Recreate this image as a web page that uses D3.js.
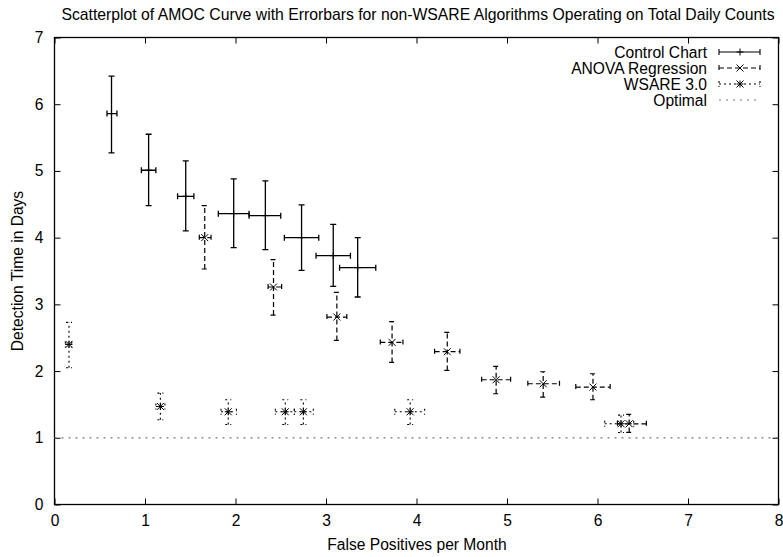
<!DOCTYPE html>
<html>
<head>
<meta charset="utf-8">
<script src="https://cdn.jsdelivr.net/npm/d3@7"></script>
<style>
  body { margin: 0; background: #fff; }
  text { font-family: "Liberation Sans", Arial, Helvetica, sans-serif; fill: #000; }
</style>
</head>
<body>
<svg id="chart" width="783" height="557"></svg>
<script>
// ---- data ----
const xTicks = [0, 1, 2, 3, 4, 5, 6, 7, 8];
const yTicks = [0, 1, 2, 3, 4, 5, 6, 7];

const seriesNames = ["Control Chart", "ANOVA Regression", "WSARE 3.0", "Optimal"];

const ccX    = [0.63, 1.04, 1.45, 1.98, 2.33, 2.73, 3.08, 3.35];
const ccY    = [5.86, 5.01, 4.62, 4.36, 4.33, 4.00, 3.73, 3.55];
const ccXlo  = [0.58, 0.96, 1.36, 1.81, 2.15, 2.54, 2.89, 3.15];
const ccXhi  = [0.69, 1.12, 1.54, 2.15, 2.50, 2.92, 3.27, 3.55];
const ccYlo  = [5.27, 4.48, 4.10, 3.85, 3.82, 3.51, 3.27, 3.11];
const ccYhi  = [6.42, 5.55, 5.15, 4.88, 4.85, 4.49, 4.20, 4.00];

const anX    = [1.66, 2.42, 3.12, 3.73, 4.34, 4.88, 5.40, 5.95, 6.35];
const anY    = [4.00, 3.26, 2.81, 2.43, 2.29, 1.87, 1.81, 1.76, 1.21];
const anXlo  = [1.60, 2.36, 3.01, 3.60, 4.20, 4.72, 5.23, 5.76, 6.22];
const anXhi  = [1.73, 2.51, 3.23, 3.85, 4.48, 5.04, 5.58, 6.14, 6.54];
const anYlo  = [3.53, 2.84, 2.46, 2.13, 2.01, 1.66, 1.61, 1.57, 1.08];
const anYhi  = [4.48, 3.67, 3.18, 2.74, 2.58, 2.07, 1.99, 1.96, 1.35];

const wsX    = [0.16, 1.17, 1.92, 2.55, 2.75, 3.93, 6.26];
const wsY    = [2.40, 1.47, 1.39, 1.39, 1.39, 1.39, 1.21];
const wsXlo  = [0.12, 1.12, 1.84, 2.44, 2.65, 3.76, 6.08];
const wsXhi  = [0.19, 1.22, 2.01, 2.65, 2.86, 4.09, 6.40];
const wsYlo  = [2.05, 1.27, 1.20, 1.20, 1.20, 1.20, 1.08];
const wsYhi  = [2.73, 1.67, 1.57, 1.57, 1.57, 1.57, 1.34];

const optimalY = 1;

// ---- layout ----
const svg = d3.select("#chart");
const L = 54.5, R = 778.5, T = 37.5, B = 504.5;
const x = d3.scaleLinear().domain([0, 8]).range([L, R]);
const y = d3.scaleLinear().domain([0, 7]).range([B, T]);
const fs = "15.6px";

// title
svg.append("text").attr("x", 418).attr("y", 20).attr("text-anchor", "middle")
  .style("font-size", "15.75px")
  .text("Scatterplot of AMOC Curve with Errorbars for non-WSARE Algorithms Operating on Total Daily Counts");

// axes (inward ticks on all sides)
const tl = 6;
svg.append("g").attr("transform", `translate(0,${B})`)
  .call(d3.axisBottom(x).tickValues(xTicks).tickSizeInner(-tl).tickSizeOuter(0).tickPadding(10).tickFormat(d3.format("d")));
svg.append("g").attr("transform", `translate(0,${T})`)
  .call(d3.axisTop(x).tickValues(xTicks).tickSizeInner(-tl).tickSizeOuter(0).tickFormat(""));
svg.append("g").attr("transform", `translate(${L},0)`)
  .call(d3.axisLeft(y).tickValues(yTicks).tickSizeInner(-tl).tickSizeOuter(0).tickPadding(11).tickFormat(d3.format("d")));
svg.append("g").attr("transform", `translate(${R},0)`)
  .call(d3.axisRight(y).tickValues(yTicks).tickSizeInner(-tl).tickSizeOuter(0).tickFormat(""));
svg.selectAll(".domain").remove();
svg.selectAll(".tick line").attr("stroke", "#000");
svg.selectAll(".tick text").style("font-size", fs).style("font-family", '"Liberation Sans", Arial, sans-serif');

svg.append("rect").attr("x", L).attr("y", T).attr("width", R - L).attr("height", B - T)
  .attr("fill", "none").attr("stroke", "#000").attr("stroke-width", 1.3);

// axis labels
svg.append("text").attr("x", 417).attr("y", 550).attr("text-anchor", "middle")
  .style("font-size", fs).text("False Positives per Month");
svg.append("text").attr("transform", "translate(23,271) rotate(-90)").attr("text-anchor", "middle")
  .style("font-size", fs).text("Detection Time in Days");

// ---- marks ----
const plot = svg.append("g");
const cap = 3;

function marker(g, cx, cy, type, s) {
  const p = d3.path();
  if (type === "plus" || type === "star") {
    p.moveTo(cx - s, cy); p.lineTo(cx + s, cy);
    p.moveTo(cx, cy - s); p.lineTo(cx, cy + s);
  }
  if (type === "cross" || type === "star") {
    p.moveTo(cx - s, cy - s); p.lineTo(cx + s, cy + s);
    p.moveTo(cx - s, cy + s); p.lineTo(cx + s, cy - s);
  }
  g.append("path").attr("d", p.toString()).attr("stroke", "#000").attr("stroke-width", 1).attr("fill", "none");
}

function drawSeries(X, Y, Xlo, Xhi, Ylo, Yhi, dash, type, width) {
  const g = plot.append("g");
  X.forEach((v, i) => {
    const cx = x(v), cy = y(Y[i]);
    const x0 = x(Xlo[i]), x1 = x(Xhi[i]), y0 = y(Ylo[i]), y1 = y(Yhi[i]);
    const p = d3.path();
    p.moveTo(cx, y0); p.lineTo(cx, y1);
    p.moveTo(x0, cy); p.lineTo(x1, cy);
    p.moveTo(cx - cap, y0); p.lineTo(cx + cap, y0);
    p.moveTo(cx - cap, y1); p.lineTo(cx + cap, y1);
    p.moveTo(x0, cy - cap); p.lineTo(x0, cy + cap);
    p.moveTo(x1, cy - cap); p.lineTo(x1, cy + cap);
    g.append("path").attr("d", p.toString()).attr("stroke", "#000")
      .attr("stroke-width", width).attr("fill", "none").attr("stroke-dasharray", dash);
    marker(g, cx, cy, type, 3.5);
  });
}

// optimal line
plot.append("line").attr("x1", x(0)).attr("x2", x(8)).attr("y1", y(optimalY)).attr("y2", y(optimalY))
  .attr("stroke", "#777").attr("stroke-width", 1.2).attr("stroke-dasharray", "2,5");

drawSeries(ccX, ccY, ccXlo, ccXhi, ccYlo, ccYhi, null, "plus", 1.3);
drawSeries(anX, anY, anXlo, anXhi, anYlo, anYhi, "5,3", "cross", 1.2);
drawSeries(wsX, wsY, wsXlo, wsXhi, wsYlo, wsYhi, "2,3", "star", 1.1);

// ---- legend ----
const legend = svg.append("g");
const styles = [
  { dash: null, type: "plus", color: "#000" },
  { dash: "5,3", type: "cross", color: "#000" },
  { dash: "2,3", type: "star", color: "#000" },
  { dash: "2,5", type: null, color: "#777" }
];
seriesNames.forEach((name, i) => {
  const ly = 52 + i * 16;
  legend.append("text").attr("x", 707).attr("y", ly + 5.5).attr("text-anchor", "end")
    .style("font-size", fs).text(name);
  const st = styles[i];
  const p = d3.path();
  p.moveTo(719, ly); p.lineTo(760, ly);
  if (st.type) {
    p.moveTo(719, ly - cap); p.lineTo(719, ly + cap);
    p.moveTo(760, ly - cap); p.lineTo(760, ly + cap);
  }
  legend.append("path").attr("d", p.toString()).attr("stroke", st.color)
    .attr("stroke-width", 1.1).attr("fill", "none").attr("stroke-dasharray", st.dash);
  if (st.type) marker(legend, 740, ly, st.type, 3.5);
});
</script>
</body>
</html>
